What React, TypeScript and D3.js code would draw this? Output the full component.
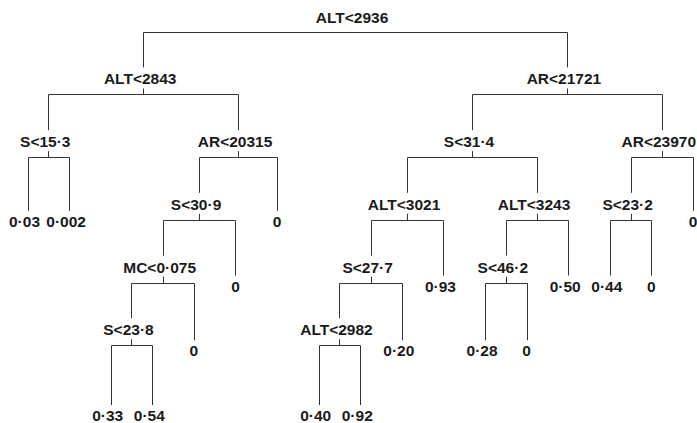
import React from "react";
import * as d3 from "d3";

// Tree structure (rpart-style regression tree)
const nodeIds = [
  "n1", "n2", "n4", "n8", "n9", "n5", "n10", "n20", "n40", "n80", "n81", "n41", "n21", "n11",
  "n3", "n6", "n12", "n24", "n48", "n96", "n97", "n49", "n25", "n13", "n26", "n52", "n53", "n27",
  "n7", "n14", "n28", "n29", "n15",
];
const parentIds = [
  "", "n1", "n2", "n4", "n4", "n2", "n5", "n10", "n20", "n40", "n40", "n20", "n10", "n5",
  "n1", "n3", "n6", "n12", "n24", "n48", "n48", "n24", "n12", "n6", "n13", "n26", "n26", "n13",
  "n3", "n7", "n14", "n14", "n7",
];
const nodeLabels = [
  "ALT<2936", "ALT<2843", "S<15·3", "0·03", "0·002", "AR<20315", "S<30·9", "MC<0·075", "S<23·8", "0·33", "0·54", "0", "0", "0",
  "AR<21721", "S<31·4", "ALT<3021", "S<27·7", "ALT<2982", "0·40", "0·92", "0·20", "0·93", "ALT<3243", "S<46·2", "0·28", "0", "0·50",
  "AR<23970", "S<23·2", "0·44", "0", "0",
];

type Row = { id: string; parent: string; label: string };
const rows: Row[] = nodeIds.map((id, i) => ({ id, parent: parentIds[i], label: nodeLabels[i] }));

const W = 697;
const H = 423;
const LINE = "#333";
const TEXT = "#1a1a1a";
const FONT = "'Liberation Sans', Arial, Helvetica, sans-serif";
const FS = 15.5;

export default function App() {
  const root = d3
    .stratify<Row>()
    .id((d) => d.id)
    .parentId((d) => (d.parent === "" ? null : d.parent))(rows);

  const leaves = root.leaves();
  const maxDepth = d3.max(root.descendants(), (d) => d.depth) as number;
  const xScale = d3.scaleLinear().domain([0, leaves.length - 1]).range([27.5, 693]);
  const yScale = d3.scaleLinear().domain([0, maxDepth]).range([31.7, 408]);

  const xPos = new Map<string, number>();
  leaves.forEach((l, i) => xPos.set(l.id as string, xScale(i)));
  root.eachAfter((n) => {
    if (n.children && n.children.length) {
      const a = xPos.get(n.children[0].id as string)!;
      const b = xPos.get(n.children[n.children.length - 1].id as string)!;
      xPos.set(n.id as string, (a + b) / 2);
    }
  });

  const px = (v: number) => Math.round(v) + 0.5;
  const leafEnd = (depth: number) => yScale(depth) - 3 - (maxDepth - depth) * 2;
  const els: React.ReactNode[] = [];

  root.descendants().forEach((n) => {
    const x = xPos.get(n.id as string)!;
    const y = yScale(n.depth);
    if (n.children) {
      const x0 = xPos.get(n.children[0].id as string)!;
      const x1 = xPos.get(n.children[n.children.length - 1].id as string)!;
      els.push(
        <line key={`h-${n.id}`} x1={px(x0)} x2={px(x1)} y1={px(y)} y2={px(y)} stroke={LINE} strokeWidth={1} />
      );
      if (n.depth > 0) {
        els.push(
          <line key={`s-${n.id}`} x1={px(x)} x2={px(x)} y1={y - 6} y2={px(y)} stroke={LINE} strokeWidth={1} />
        );
      }
      els.push(
        <text
          key={`t-${n.id}`}
          x={x - 3}
          y={n.depth === 0 ? y - 8.5 : y - 10}
          textAnchor="middle"
          fontFamily={FONT}
          fontWeight="bold"
          fontSize={FS}
          fill={TEXT}
        >
          {n.data.label}
        </text>
      );
      n.children.forEach((c) => {
        const cx = xPos.get(c.id as string)!;
        const cy = yScale(c.depth);
        const end = c.children ? cy - 27 : leafEnd(c.depth);
        els.push(
          <line key={`v-${c.id}`} x1={px(cx)} x2={px(cx)} y1={px(y)} y2={end} stroke={LINE} strokeWidth={1} />
        );
      });
    } else {
      const end = leafEnd(n.depth);
      els.push(
        <text
          key={`t-${n.id}`}
          x={n.data.label === "0" ? x : x - 3}
          y={end + 16}
          textAnchor="middle"
          fontFamily={FONT}
          fontWeight="bold"
          fontSize={FS}
          fill={TEXT}
        >
          {n.data.label}
        </text>
      );
    }
  });

  return (
    <svg
      width={W}
      height={H}
      viewBox={`0 0 ${W} ${H}`}
      style={{ position: "fixed", left: 0, top: 0, background: "#fff" }}
    >
      <rect x={0} y={0} width={W} height={H} fill="#fff" />
      {els}
    </svg>
  );
}
